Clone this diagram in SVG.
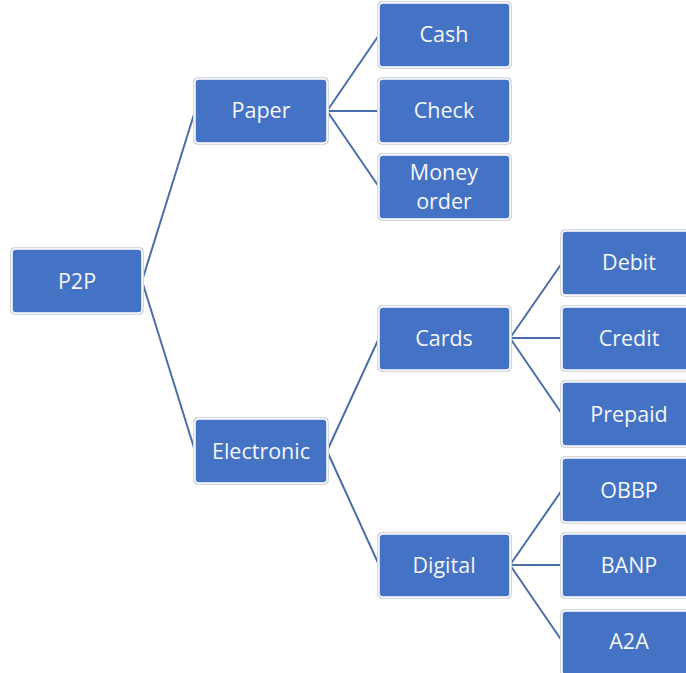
<svg xmlns="http://www.w3.org/2000/svg" width="686" height="673" viewBox="0 0 686 673">
<style>
.sh{fill:#d5d8de}
.bx{fill:#4472C4;stroke:#ffffff;stroke-width:1.5}
.t{font-family:"Open Sans","Noto Sans",sans-serif;font-size:21.5px;fill:#f4f6fa;text-anchor:middle;dominant-baseline:central}
.c{stroke:#4a6ea8;stroke-width:2;fill:none}
</style>
<rect width="686" height="673" fill="#ffffff"/>
<g id="connectors">
<path class="c" d="M142,281 L195,111 M142,281 L195,451"/>
<path class="c" d="M327,111 L379,35 M327,111 L379,111 M327,111 L379,187"/>
<path class="c" d="M327,451 L379,338 M327,451 L379,565"/>
<path class="c" d="M510,338 L562,263 M510,338 L562,338 M510,338 L562,414"/>
<path class="c" d="M510,565 L562,490 M510,565 L562,565 M510,565 L562,641"/>
</g>
<g id="p2p"><rect class="sh" x="10" y="247" width="134" height="68" rx="5"/><rect class="bx" x="12" y="249" width="130" height="64" rx="4"/><text class="t" x="77" y="280">P2P</text></g>
<g id="paper"><rect class="sh" x="193" y="77" width="136" height="68" rx="5"/><rect class="bx" x="195" y="79" width="132" height="64" rx="4"/><text class="t" x="261" y="109">Paper</text></g>
<g id="electronic"><rect class="sh" x="193" y="417" width="136" height="68" rx="5"/><rect class="bx" x="195" y="419" width="132" height="64" rx="4"/><text class="t" x="261" y="450">Electronic</text></g>
<g id="cash"><rect class="sh" x="377" y="1" width="135" height="68" rx="5"/><rect class="bx" x="379" y="3" width="131" height="64" rx="4"/><text class="t" x="444" y="33">Cash</text></g>
<g id="check"><rect class="sh" x="377" y="77" width="135" height="68" rx="5"/><rect class="bx" x="379" y="79" width="131" height="64" rx="4"/><text class="t" x="444" y="109">Check</text></g>
<g id="money-order"><rect class="sh" x="377" y="153" width="135" height="68" rx="5"/><rect class="bx" x="379" y="155" width="131" height="64" rx="4"/><text class="t" x="444" y="171">Money</text><text class="t" x="444" y="200">order</text></g>
<g id="cards"><rect class="sh" x="377" y="305" width="135" height="67" rx="5"/><rect class="bx" x="379" y="307" width="131" height="63" rx="4"/><text class="t" x="444" y="337">Cards</text></g>
<g id="digital"><rect class="sh" x="377" y="532" width="135" height="67" rx="5"/><rect class="bx" x="379" y="534" width="131" height="63" rx="4"/><text class="t" x="444" y="564">Digital</text></g>
<g id="debit"><rect class="sh" x="560" y="229" width="136" height="68" rx="5"/><rect class="bx" x="562" y="231" width="132" height="64" rx="4"/><text class="t" x="629" y="261">Debit</text></g>
<g id="credit"><rect class="sh" x="560" y="305" width="136" height="67" rx="5"/><rect class="bx" x="562" y="307" width="132" height="63" rx="4"/><text class="t" x="629" y="337">Credit</text></g>
<g id="prepaid"><rect class="sh" x="560" y="380" width="136" height="68" rx="5"/><rect class="bx" x="562" y="382" width="132" height="64" rx="4"/><text class="t" x="629" y="413">Prepaid</text></g>
<g id="obbp"><rect class="sh" x="560" y="456" width="136" height="68" rx="5"/><rect class="bx" x="562" y="458" width="132" height="64" rx="4"/><text class="t" x="629" y="489">OBBP</text></g>
<g id="banp"><rect class="sh" x="560" y="532" width="136" height="67" rx="5"/><rect class="bx" x="562" y="534" width="132" height="63" rx="4"/><text class="t" x="629" y="564">BANP</text></g>
<g id="a2a"><rect class="sh" x="560" y="609" width="136" height="68" rx="5"/><rect class="bx" x="562" y="611" width="132" height="64" rx="4"/><text class="t" x="629" y="640">A2A</text></g>
</svg>
